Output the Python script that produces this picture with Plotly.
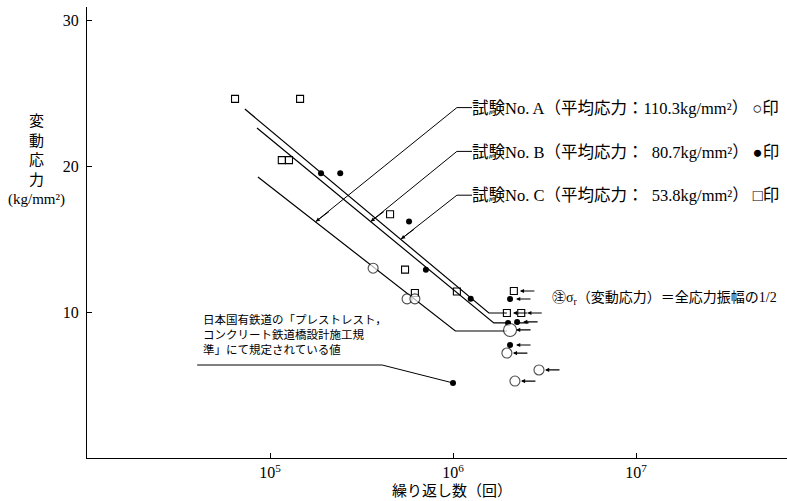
import numpy as np
import plotly.graph_objects as go

# ---- data (cycles N, stress amplitude kg/mm2) ----
# Test No.C (squares)
c_n = [64400, 146000, 116000, 127000, 453000, 547000, 619000, 1050000]
c_s = [24.6, 24.6, 20.4, 20.4, 16.7, 12.9, 11.3, 11.4]
c_run_n = [2150000, 1970000, 2360000]
c_run_s = [11.44, 9.93, 9.93]
# Test No.B (filled circles)
b_n = [190000, 242000, 575000, 711000, 1250000]
b_s = [19.5, 19.5, 16.2, 12.9, 10.9]
b_run_n = [2050000, 2000000, 2240000, 2050000]
b_run_s = [10.89, 9.25, 9.32, 7.74]
# Test No.A (open circles)
a_n = [366000, 561000, 619000]
a_s = [13.0, 10.9, 10.9]
a_run_n = [2050000, 1970000, 2950000, 2180000]
a_run_s = [8.77, 7.19, 6.03, 5.27]
a_big = [True, False, False, False]
# JNR specified value
jnr_n = [1000000]
jnr_s = [5.14]

# S-N lines
lc_n = [72900, 1570000, 1970000]
lc_s = [23.9, 9.93, 9.93]
lb_n = [84900, 1670000, 2000000]
lb_s = [22.6, 9.25, 9.25]
la_n = [85900, 1030000, 1970000]
la_s = [19.25, 8.7, 8.7]

x_ticks = [1e5, 1e6, 1e7]
x_ticktext = ["10<sup>5</sup>", "10<sup>6</sup>", "10<sup>7</sup>"]
y_ticks = [10, 20, 30]

labels = [
    "試験No. A（平均応力：110.3kg/mm²） ○印",
    "試験No. B（平均応力：  80.7kg/mm²） ●印",
    "試験No. C（平均応力：  53.8kg/mm²） □印",
]

SERIF = "Liberation Serif, Noto Sans CJK JP"
fig = go.Figure()

def line(xs, ys, w=1.2):
    fig.add_trace(go.Scatter(x=xs, y=ys, mode="lines",
                             line=dict(color="black", width=w),
                             hoverinfo="skip", showlegend=False))

line(lc_n, lc_s)
line(lb_n, lb_s)
line(la_n, la_s)

# leader lines (text end, corner, tip on line) in data coordinates
lead_text_x = 1.27e6
lead_corner_x = 1.05e6
lead_y = [24.0, 21.0, 18.0]
tip_n = [178000, 355000, 520000]
tip_s = [16.2, 16.2, 15.0]
for i in range(3):
    line([lead_text_x, lead_corner_x, tip_n[i]], [lead_y[i], lead_y[i], tip_s[i]], w=1)
    fig.add_annotation(x=np.log10(tip_n[i]), y=tip_s[i], xref="x", yref="y",
                       ax=np.log10(tip_n[i]) + 0.08, ay=tip_s[i] + 0.75,
                       axref="x", ayref="y", text="", showarrow=True,
                       arrowhead=2, arrowsize=0.8, arrowwidth=1, arrowcolor="black")

# JNR leader
line([40000, 410000, jnr_n[0]], [6.37, 6.37, jnr_s[0]], w=1)

mk_line = dict(color="black", width=1.1)
fig.add_trace(go.Scatter(x=c_n + c_run_n, y=c_s + c_run_s, mode="markers",
                         marker=dict(symbol="square-open", size=7, color="black", line=mk_line),
                         showlegend=False))
fig.add_trace(go.Scatter(x=b_n + b_run_n, y=b_s + b_run_s, mode="markers",
                         marker=dict(symbol="circle", size=6, color="black", line=dict(width=0)),
                         showlegend=False))
fig.add_trace(go.Scatter(x=a_n + a_run_n, y=a_s + a_run_s, mode="markers",
                         marker=dict(symbol="circle", size=[10, 10, 10] + [13 if b else 10 for b in a_big],
                                     color="white", line=mk_line),
                         showlegend=False))
fig.add_trace(go.Scatter(x=jnr_n, y=jnr_s, mode="markers",
                         marker=dict(symbol="circle", size=6, color="black"),
                         showlegend=False))

# run-out arrows
for xs, ys in [(c_run_n, c_run_s), (b_run_n, b_run_s), (a_run_n, a_run_s)]:
    for xv, yv in zip(xs, ys):
        fig.add_annotation(x=np.log10(xv), y=yv, xref="x", yref="y", ax=22, ay=0,
                           text="", showarrow=True, arrowhead=2, arrowsize=0.7,
                           arrowwidth=1.2, arrowcolor="black", standoff=6)

# texts
PW, PH, L, T = 700, 451, 87, 7
def px(x): return (x - L) / PW
def py(y): return (T + PH - y) / PH

for lab, yy in zip(labels, [108, 152, 195]):
    fig.add_annotation(x=px(470), y=py(yy), xref="paper", yref="paper", text=lab,
                       showarrow=False, xanchor="left", yanchor="middle",
                       font=dict(family=SERIF, size=16.5, color="black"))

fig.add_annotation(x=px(550), y=py(298), xref="paper", yref="paper",
                   text="㊟σ<sub>r</sub>（変動応力）＝全応力振幅の1/2",
                   showarrow=False, xanchor="left", yanchor="middle",
                   font=dict(family=SERIF, size=14, color="black"))

fig.add_annotation(x=px(201), y=py(334), xref="paper", yref="paper",
                   text="日本国有鉄道の「プレストレスト，<br>コンクリート鉄道橋設計施工規<br>準」にて規定されている値",
                   showarrow=False, xanchor="left", yanchor="middle", align="left",
                   font=dict(family=SERIF, size=11.5, color="black"))

fig.add_annotation(x=px(36), y=py(160), xref="paper", yref="paper",
                   text="変<br>動<br>応<br>力<br>(kg/mm²)",
                   showarrow=False, xanchor="center", yanchor="middle", align="center",
                   font=dict(family=SERIF, size=15, color="black"))

fig.add_annotation(x=px(452), y=py(491), xref="paper", yref="paper",
                   text="繰り返し数（回）", showarrow=False,
                   xanchor="center", yanchor="middle",
                   font=dict(family=SERIF, size=15, color="black"))

fig.update_layout(
    width=787, height=501,
    margin=dict(l=L, r=0, t=T, b=501 - T - PH),
    paper_bgcolor="white", plot_bgcolor="white",
    showlegend=False,
    xaxis=dict(type="log", range=[4, 4 + 700 / 183.0], tickvals=x_ticks, ticktext=x_ticktext,
               ticks="inside", ticklen=5, tickcolor="black", showline=True, linecolor="black",
               linewidth=1.2, showgrid=False, zeroline=False,
               tickfont=dict(family=SERIF, size=16, color="black")),
    yaxis=dict(range=[0, PH / 14.6], tickvals=y_ticks, ticks="inside", ticklen=5,
               tickcolor="black", showline=True, linecolor="black", linewidth=1.2,
               showgrid=False, zeroline=False, ticklabelstandoff=4,
               tickfont=dict(family=SERIF, size=16, color="black")),
)

fig.write_html("out.html", config={"displayModeBar": False},
               post_script="document.body.style.margin='0px';document.body.style.overflow='hidden';")
